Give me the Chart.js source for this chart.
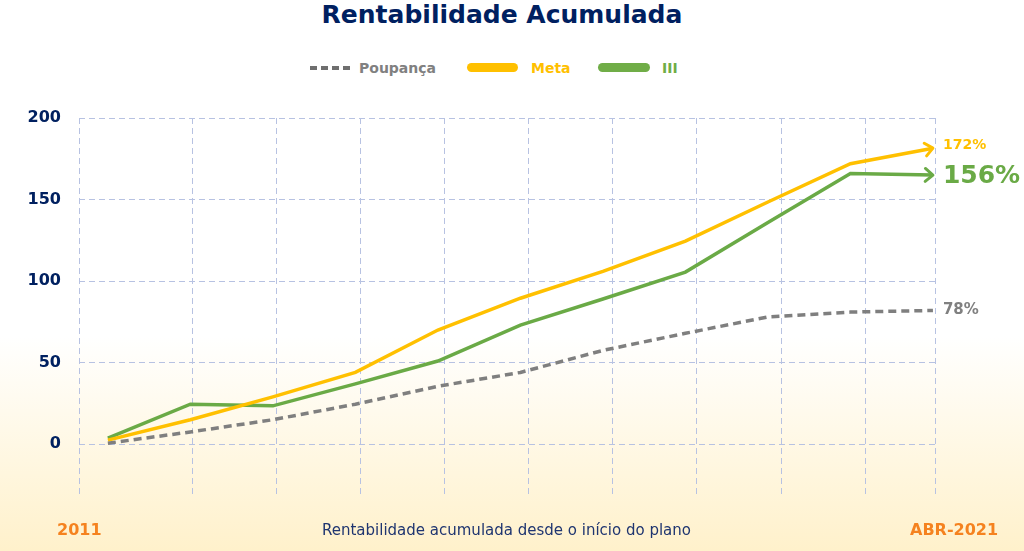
<!DOCTYPE html>
<html>
<head>
<meta charset="utf-8">
<title>Rentabilidade Acumulada</title>
<script src="https://cdn.jsdelivr.net/npm/chart.js@4.4.1/dist/chart.umd.min.js"></script>
<style>
  body {
    margin: 0;
    width: 1024px;
    height: 551px;
    overflow: hidden;
    position: relative;
    font-family: "DejaVu Sans", Verdana, sans-serif;
    background: linear-gradient(to bottom, #ffffff 0%, #ffffff 61%, #fff1cb 100%);
  }
  canvas { position: absolute; left: 0; top: 0; }
  .txt { position: absolute; white-space: nowrap; }
  #title { left: 0; width: 1004px; top: 1px; text-align: center; font-size: 25px; font-weight: bold; color: #002060; line-height: 28px; }
  .leg { position: absolute; top: 59px; height: 17px; display: flex; align-items: center; font-size: 14px; font-weight: bold; }
  .leg i { display: inline-block; margin-right: 9px; }
  .bottom { top: 520px; line-height: 20px; }
</style>
</head>
<body>
<div id="title" class="txt">Rentabilidade Acumulada</div>

<div class="leg" style="left:310px;color:#808080">
  <i style="width:40px;height:4px;background:repeating-linear-gradient(to right,#6f6f6f 0 7px,transparent 7px 11px)"></i>Poupança
</div>
<div class="leg" style="left:467px;color:#ffc000">
  <i style="width:51px;height:9px;border-radius:5px;background:#ffc000;margin-right:13px"></i>Meta
</div>
<div class="leg" style="left:598px;color:#70ad47">
  <i style="width:52px;height:9px;border-radius:5px;background:#70ad47;margin-right:12px"></i>III
</div>

<canvas id="chart" width="1024" height="551"></canvas>

<div class="txt bottom" style="left:57px;font-size:16px;font-weight:bold;color:#f5821f">2011</div>
<div class="txt bottom" style="left:322px;font-size:15px;color:#1f3570">Rentabilidade acumulada desde o início do plano</div>
<div class="txt bottom" style="left:910px;font-size:16px;font-weight:bold;color:#f5821f">ABR-2021</div>

<script>
// periods from 2011 up to april 2021
const periodos = ['2011', '2012', '2013', '2014', '2015', '2016', '2017', '2018', '2019', '2020', 'ABR-2021'];

// accumulated return (%)
const poupanca = [0.6, 7.5, 15, 24.5, 35.5, 44, 57.5, 68, 78, 81, 82];
const meta     = [2.5, 15, 29, 44, 70, 89.5, 106, 124.5, 148.5, 172, 181.5];
const iii      = [3.7, 24.5, 23.5, 37, 51, 73, 89, 105.5, 136, 166, 165];

const yTicks = [0, 50, 100, 150, 200];
const finais = ['78%', '172%', '156%'];

const navy = '#002060';
const gridColor = '#b7c2e2';

function pts(arr) {
  return arr.map((v, i) => ({ x: i, y: v }));
}

// arrow heads + final values at the end of each line
const endLabels = {
  id: 'endLabels',
  afterDatasetsDraw(chart) {
    const ctx = chart.ctx;
    const sizes = [15, 14, 25];
    const shiftY = [0, -3, 1];
    const arrows = [false, true, true];
    chart.data.datasets.forEach((ds, i) => {
      const meta = chart.getDatasetMeta(i);
      const n = meta.data.length;
      const last = meta.data[n - 1];
      const prev = meta.data[n - 2];
      ctx.save();
      if (arrows[i]) {
        const ang = Math.atan2(last.y - prev.y, last.x - prev.x);
        const len = 10;
        ctx.strokeStyle = ds.borderColor;
        ctx.lineWidth = 3;
        ctx.lineCap = 'round';
        ctx.lineJoin = 'round';
        ctx.beginPath();
        ctx.moveTo(last.x + len * Math.cos(ang + Math.PI - 0.7), last.y + len * Math.sin(ang + Math.PI - 0.7));
        ctx.lineTo(last.x, last.y);
        ctx.lineTo(last.x + len * Math.cos(ang + Math.PI + 0.7), last.y + len * Math.sin(ang + Math.PI + 0.7));
        ctx.stroke();
      }
      ctx.fillStyle = ds.labelColor;
      ctx.font = 'bold ' + sizes[i] + 'px "DejaVu Sans"';
      ctx.textBaseline = 'middle';
      ctx.textAlign = 'left';
      ctx.fillText(finais[i], last.x + 10, last.y + shiftY[i]);
      ctx.restore();
    });
  }
};

const config = {
  type: 'line',
  data: {
    labels: periodos,
    datasets: [
      {
        label: 'Poupança',
        data: pts(poupanca),
        borderColor: '#7f7f7f',
        labelColor: '#808080',
        borderWidth: 3.5,
        borderDash: [8, 5],
        pointRadius: 0,
        tension: 0
      },
      {
        label: 'Meta',
        data: pts(meta),
        borderColor: '#ffc000',
        labelColor: '#ffc000',
        borderWidth: 3.5,
        pointRadius: 0,
        tension: 0
      },
      {
        label: 'III',
        data: pts(iii),
        borderColor: '#6aaa46',
        labelColor: '#6aaa46',
        borderWidth: 3.5,
        pointRadius: 0,
        tension: 0
      }
    ]
  },
  options: {
    responsive: false,
    animation: false,
    devicePixelRatio: 1,
    layout: { padding: { left: 0, top: 118, right: 89, bottom: 53 } },
    plugins: {
      legend: { display: false },
      title: { display: false },
      tooltip: { enabled: false }
    },
    scales: {
      x: {
        type: 'linear',
        min: -0.35,
        max: 10.025,
        ticks: { display: false },
        grid: { color: gridColor, lineWidth: 1, drawTicks: false },
        border: { display: false, dash: [6, 4] },
        afterBuildTicks(scale) {
          const t = [scale.min];
          for (let k = 1; k <= 9; k++) t.push(k * 1.02);
          t.push(scale.max);
          scale.ticks = t.map(v => ({ value: v }));
        },
        afterFit(scale) { scale.height = 0; }
      },
      y: {
        min: -33,
        max: 200,
        ticks: {
          color: navy,
          padding: 18,
          font: { family: 'DejaVu Sans', size: 16, weight: 'bold' }
        },
        grid: { color: gridColor, lineWidth: 1, drawTicks: false },
        border: { display: false, dash: [6, 4] },
        afterBuildTicks(scale) {
          scale.ticks = yTicks.map(v => ({ value: v }));
        },
        afterFit(scale) { scale.width = 79; }
      }
    }
  },
  plugins: [endLabels]
};

const myChart = new Chart(document.getElementById('chart'), config);
</script>
</body>
</html>
